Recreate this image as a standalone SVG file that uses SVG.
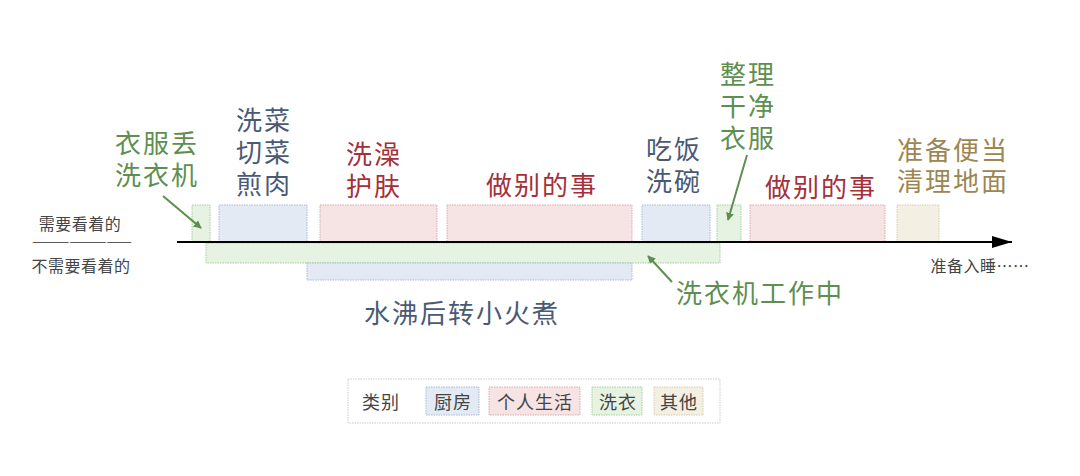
<svg xmlns="http://www.w3.org/2000/svg" width="1080" height="476" viewBox="0 0 1080 476">
<defs>
<style>
text{font-family:"Noto Sans CJK SC","Noto Sans",sans-serif;}
.big{font-size:26px;letter-spacing:2px;text-anchor:middle;dominant-baseline:central;}
.small{font-size:16px;letter-spacing:0.5px;fill:#444;text-anchor:middle;dominant-baseline:central;}
.leg{font-size:18px;letter-spacing:1px;fill:#444;text-anchor:middle;dominant-baseline:central;}
.cb{fill:#4a5a75;} .cr{fill:#a3303a;} .cg{fill:#5e8f50;} .co{fill:#9c8651;}
.bb{fill:#e3eaf4;stroke:#a7b8d3;stroke-width:1;stroke-dasharray:1.5 1;}
.br{fill:#f6e3e4;stroke:#dba9ad;stroke-width:1;stroke-dasharray:1.5 1;}
.bg{fill:#e6f2e2;stroke:#a5cf9c;stroke-width:1;stroke-dasharray:1.5 1;}
.bo{fill:#f3efe3;stroke:#d9cbb0;stroke-width:1;stroke-dasharray:1.5 1;}
.arr{stroke:#5e8f50;stroke-width:2;fill:none;marker-end:url(#ga);}
</style>
<marker id="ga" viewBox="0 0 10 10" refX="9" refY="5" markerWidth="4" markerHeight="4" orient="auto"><path d="M0,0 L10,5 L0,10 z" fill="#5e8f50"/></marker>
<marker id="ka" viewBox="0 0 20 12" refX="20" refY="6" markerWidth="20" markerHeight="12" markerUnits="userSpaceOnUse" orient="auto"><path d="M0,0 L20,6 L0,12 z" fill="#000"/></marker>
</defs>
<rect width="1080" height="476" fill="#fff"/>

<g id="side-labels">
<text class="small" x="80" y="223">需要看着的</text>
<text x="32" y="240" font-size="13" fill="#333" textLength="100" lengthAdjust="spacingAndGlyphs" dominant-baseline="central">————————</text>
<text class="small" x="81" y="265">不需要看着的</text>
<text class="small" x="980" y="265" font-size="15">准备入睡……</text>
</g>

<g id="lower-boxes">
<rect class="bg" x="206" y="243" width="514" height="20"/>
<rect class="bb" x="307" y="263" width="325" height="17"/>
</g>

<g id="n1"><rect class="bg" x="192" y="205" width="18" height="37"/>
<text class="big cg" x="157" y="141">衣服丢</text><text class="big cg" x="157" y="173">洗衣机</text></g>
<g id="n2"><rect class="bb" x="219" y="205" width="88" height="37"/>
<text class="big cb" x="264" y="118">洗菜</text><text class="big cb" x="264" y="150">切菜</text><text class="big cb" x="264" y="182">煎肉</text></g>
<g id="n3"><rect class="br" x="320" y="205" width="117" height="37"/>
<text class="big cr" x="374" y="152">洗澡</text><text class="big cr" x="374" y="184">护肤</text></g>
<g id="n4"><rect class="br" x="447" y="205" width="185" height="37"/>
<text class="big cr" x="542" y="183">做别的事</text></g>
<g id="n5"><rect class="bb" x="642" y="205" width="68" height="37"/>
<text class="big cb" x="674" y="147">吃饭</text><text class="big cb" x="674" y="179">洗碗</text></g>
<g id="n6"><rect class="bg" x="717" y="205" width="24" height="37"/>
<text class="big cg" x="748" y="72">整理</text><text class="big cg" x="748" y="104">干净</text><text class="big cg" x="748" y="136">衣服</text></g>
<g id="n7"><rect class="br" x="750" y="205" width="135" height="37"/>
<text class="big cr" x="821" y="185">做别的事</text></g>
<g id="n8"><rect class="bo" x="897" y="205" width="42" height="37"/>
<text class="big co" x="953" y="148">准备便当</text><text class="big co" x="953" y="179">清理地面</text></g>
<g id="n9"><text class="big cb" x="462" y="311">水沸后转小火煮</text></g>
<g id="n10"><text class="big cg" x="760" y="291">洗衣机工作中</text></g>

<g id="connectors">
<line x1="177" y1="242" x2="1012" y2="242" stroke="#000" stroke-width="2" marker-end="url(#ka)"/>
<line class="arr" x1="163" y1="196" x2="201" y2="228"/>
<line class="arr" x1="747" y1="155" x2="728" y2="220"/>
<line class="arr" x1="672" y1="282" x2="648" y2="256"/>
</g>

<g id="legend">
<rect x="348" y="379" width="372" height="44" fill="#fff" stroke="#ccc" stroke-width="1" stroke-dasharray="1.5 1"/>
<text class="leg" x="381" y="401">类别</text>
<rect class="bb" x="426" y="387" width="53" height="28"/><text class="leg" x="453" y="401">厨房</text>
<rect class="br" x="489" y="387" width="91" height="28"/><text class="leg" x="535" y="401">个人生活</text>
<rect class="bg" x="592" y="387" width="50" height="28"/><text class="leg" x="618" y="401">洗衣</text>
<rect class="bo" x="654" y="387" width="49" height="28"/><text class="leg" x="679" y="401">其他</text>
</g>
</svg>
